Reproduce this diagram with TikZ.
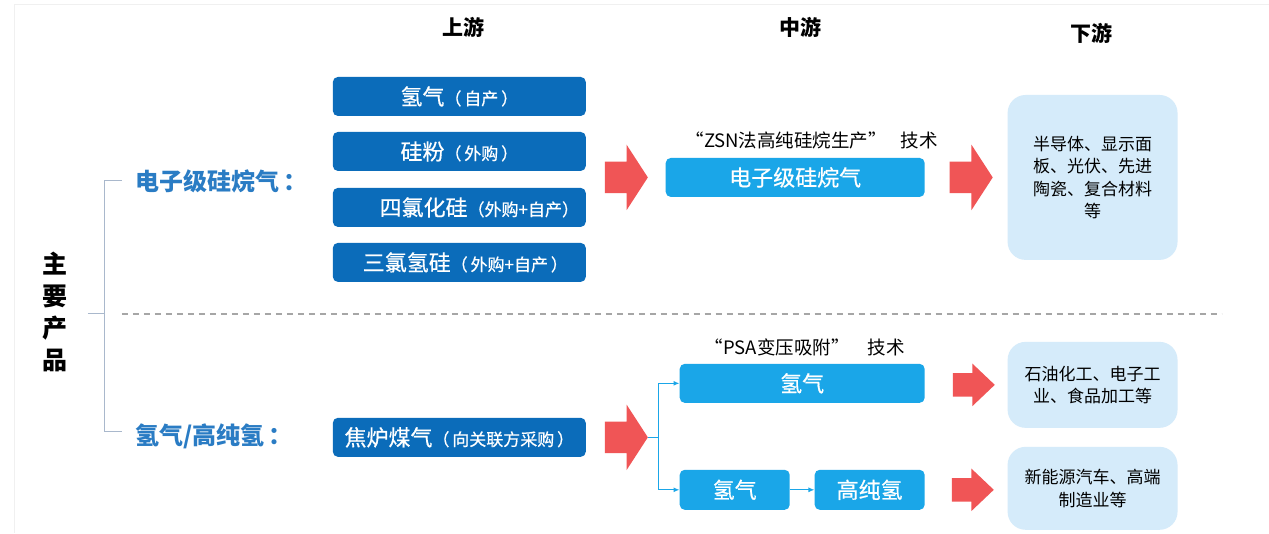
\documentclass[tikz,border=0pt]{standalone}
\usepackage{fontspec}
\setmainfont{Noto Sans CJK SC}
\newfontfamily\boxfont[FakeBold=0.6]{Noto Sans CJK SC}
\usetikzlibrary{shapes.arrows,arrows.meta}
\definecolor{dkblue}{HTML}{0B6CBA}
\definecolor{ltblue}{HTML}{1AA6E8}
\definecolor{paleblue}{HTML}{D5EBFA}
\definecolor{catblue}{HTML}{2A7CC4}
\definecolor{redarr}{HTML}{F05556}
\definecolor{brk}{HTML}{A9B8CC}
\newcommand{\sm}[1]{{\fontsize{17}{19}\selectfont #1}}
\begin{document}
\begin{tikzpicture}[x=1pt,y=-1pt,
  upbox/.style={fill=dkblue,rounded corners=5pt,minimum width=253pt,minimum height=39pt,inner sep=0pt,text=white,font=\boxfont\fontsize{22}{24}\selectfont},
  midbox/.style={fill=ltblue,rounded corners=5pt,minimum height=39pt,inner sep=0pt,text=white,font=\boxfont\fontsize{22}{24}\selectfont},
  endbox/.style={fill=paleblue,rounded corners=18pt,minimum width=170pt,inner sep=0pt,text width=160pt,align=center,font=\fontsize{17}{22.5}\selectfont},
  bigarrow/.style={single arrow,fill=redarr,draw=none,inner xsep=0pt,inner ysep=15.5pt,minimum height=43pt,single arrow head extend=17pt,single arrow tip angle=114,single arrow head indent=0pt},
  smallarrow/.style={single arrow,fill=redarr,draw=none,inner xsep=0pt,inner ysep=11.5pt,minimum height=42pt,single arrow head extend=9.5pt,single arrow tip angle=87,single arrow head indent=0pt},
  hdr/.style={font=\bfseries\fontsize{21}{24}\selectfont},
  cat/.style={text=catblue,font=\bfseries\fontsize{24}{26}\selectfont},
  tech/.style={font=\fontsize{18.5}{20}\selectfont},
  conn/.style={draw=ltblue,line width=1.2pt}]
\fill[white] (0,0) rectangle (1269,533);
\draw[black!6,line width=1pt] (15,533) -- (15,4) -- (1269,4);
% headers
\node[hdr] (hup) at (464,27) {上游};
\node[hdr] (hmid) at (801,27) {中游};
\node[hdr] (hdown) at (1092,33) {下游};
% main label
\node[font=\bfseries\fontsize{25}{32}\selectfont,align=center] (main) at (55,312) {主\\要\\产\\品};
% bracket
\coordinate (bt) at (122,181);
\coordinate (bb) at (122,432);
\coordinate (bm) at (88,314);
\coordinate (bx) at (105,314);
\draw[brk,line width=1pt] (bt) -- (105,181) -- (105,432) -- (bb);
\draw[brk,line width=1pt] (bm) -- (bx);
% dashed separator
\coordinate (d1) at (122,314);
\coordinate (d2) at (1222,314);
\draw[black!35,line width=1.3pt,dash pattern=on 6pt off 5pt] (d1) -- (d2);
% categories
\node[cat,anchor=west] (cat1) at (132,181) {电子级硅烷气\,：};
\node[cat,anchor=west] (cat2) at (132,436) {氢气/高纯氢\,：};
% upstream boxes
\node[upbox] (u1) at (459.5,96.5) {氢气\sm{（\,自产\,）}};
\node[upbox] (u2) at (459.5,151.5) {硅粉\sm{（\,外购\,）}};
\node[upbox] (u3) at (459.5,207.5) {\hspace*{40pt}四氯化硅\sm{（外购+自产）}};
\node[upbox] (u4) at (459.5,262.5) {\hspace*{12pt}三氯氢硅\sm{（\,外购+自产\,）}};
\node[upbox] (coal) at (459.5,437.5) {焦炉煤气\sm{（\,向关联方采购\,）}};
% red arrows
\node[bigarrow] (ra1) at (621.5,177.5) {};
\node[bigarrow] (ra2) at (966.5,177.5) {};
\node[bigarrow] (ra3) at (621.5,437.5) {};
\node[smallarrow] (ra4) at (968,385) {};
\node[smallarrow] (ra5) at (967,490) {};
% midstream
\node[tech] (t1) at (812,141) {“ZSN法高纯硅烷生产”\hspace{14pt}技术};
\node[midbox,minimum width=259pt] (m1) at (795.5,177.5) {电子级硅烷气};
\node[tech] (t2) at (805,348) {“PSA变压吸附”\hspace{18pt}技术};
\node[midbox,minimum width=245pt] (h2a) at (802.5,383.5) {氢气};
\node[midbox,minimum width=110pt,minimum height=40pt] (h2b) at (735,490) {氢气};
\node[midbox,minimum width=110pt,minimum height=40pt] (hp) at (870,490) {高纯氢};
% connectors
\coordinate (split) at (659,437.5);
\draw[conn] (ra3.tip) -- (split);
\draw[conn,-{Latex[length=6pt,width=5pt]}] (split) |- (h2a.west);
\draw[conn,-{Latex[length=6pt,width=5pt]}] (split) |- (h2b.west);
\draw[conn,-{Latex[length=6pt,width=5pt]}] (h2b) -- (hp);
% downstream
\node[endbox,minimum height=165pt] (e1) at (1093,177.5) {半导体、显示面\\板、光伏、先进\\陶瓷、复合材料\\等};
\node[endbox,minimum height=86pt] (e2) at (1093,385) {石油化工、电子工\\业、食品加工等};
\node[endbox,minimum height=83pt] (e3) at (1093,488.5) {新能源汽车、高端\\制造业等};
\end{tikzpicture}
\end{document}
